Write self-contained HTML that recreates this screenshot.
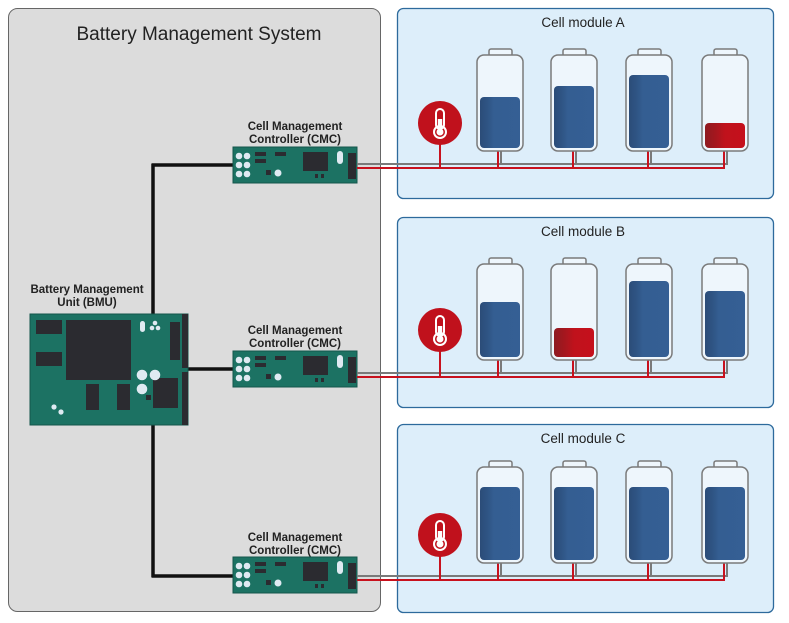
<!DOCTYPE html>
<html><head><meta charset="utf-8"><style>
html,body{margin:0;padding:0;background:#fff;width:789px;height:623px;overflow:hidden}
svg{display:block}
text{font-family:"Liberation Sans",sans-serif;fill:#222}
</style></head><body>
<svg width="789" height="623" viewBox="0 0 789 623" xmlns="http://www.w3.org/2000/svg">
<defs>
<linearGradient id="bl" x1="0" x2="1" y1="0" y2="0">
<stop offset="0" stop-color="#2b4c78"/><stop offset="0.2" stop-color="#2f5585"/><stop offset="0.35" stop-color="#345e92"/><stop offset="1" stop-color="#355f94"/></linearGradient>
<linearGradient id="rd" x1="0" x2="1" y1="0" y2="0">
<stop offset="0" stop-color="#8e1a20"/><stop offset="0.3" stop-color="#a8161e"/><stop offset="0.5" stop-color="#c0121c"/><stop offset="1" stop-color="#c5101c"/></linearGradient>
<g id="therm">
<circle cx="0" cy="0" r="22" fill="#c0111c"/>
<rect x="-4" y="-14" width="8" height="20" rx="4" fill="none" stroke="#fff" stroke-width="2"/>
<circle cx="0" cy="9" r="6" fill="none" stroke="#fff" stroke-width="2"/>
<rect x="-2.2" y="-4" width="4.4" height="10" fill="#fff"/>
<circle cx="0" cy="9" r="3.5" fill="#fff"/>
</g>
<g id="cmc">
<rect x="0" y="0" width="124" height="36" fill="#1c7263"/>
<rect x="0" y="0" width="124" height="36" fill="none" stroke="#14564b" stroke-width="1"/>
<g fill="#dfeaf2">
<circle cx="6" cy="9" r="3.3"/><circle cx="14" cy="9" r="3.3"/>
<circle cx="6" cy="18" r="3.3"/><circle cx="14" cy="18" r="3.3"/>
<circle cx="6" cy="27" r="3.3"/><circle cx="14" cy="27" r="3.3"/>
<circle cx="45" cy="26" r="3.5"/>
<rect x="104" y="4" width="6" height="13" rx="3"/>
</g>
<g fill="#2b2b30">
<rect x="22" y="5" width="11" height="4"/><rect x="22" y="12" width="11" height="4"/>
<rect x="42" y="5" width="11" height="4"/>
<rect x="33" y="23" width="5" height="5"/>
<rect x="70" y="5" width="25" height="19"/>
<rect x="82" y="27" width="3" height="4"/><rect x="88" y="27" width="3" height="4"/>
<rect x="115" y="6" width="8" height="26"/>
</g>
</g>
<g id="cmclabel">
<text x="0" y="0" font-size="11.5" font-weight="bold" text-anchor="middle">Cell Management</text>
<text x="0" y="13" font-size="11.5" font-weight="bold" text-anchor="middle">Controller (CMC)</text>
</g>
</defs>

<!-- BMS panel -->
<rect x="8.5" y="8.5" width="372" height="603" rx="9" fill="#dcdcdc" stroke="#666" stroke-width="1"/>
<text x="199" y="40" font-size="19" text-anchor="middle">Battery Management System</text>

<!-- modules -->
<rect x="397.5" y="8.5" width="376" height="190" rx="6" fill="#ddeefa" stroke="#2d6a9c" stroke-width="1.3"/>
<rect x="397.5" y="217.5" width="376" height="190" rx="6" fill="#ddeefa" stroke="#2d6a9c" stroke-width="1.3"/>
<rect x="397.5" y="424.5" width="376" height="188" rx="6" fill="#ddeefa" stroke="#2d6a9c" stroke-width="1.3"/>
<text x="583" y="27" font-size="13.5" text-anchor="middle">Cell module A</text>
<text x="583" y="236" font-size="13.5" text-anchor="middle">Cell module B</text>
<text x="583" y="443" font-size="13.5" text-anchor="middle">Cell module C</text>

<!-- black bus -->
<g stroke="#111" stroke-width="3.5" fill="none">
<line x1="153" y1="164" x2="153" y2="577"/>
<line x1="151.5" y1="165" x2="234" y2="165"/>
<line x1="188" y1="369" x2="234" y2="369"/>
<line x1="151.5" y1="576" x2="234" y2="576"/>
</g>

<!-- BMU -->
<text x="87" y="293" font-size="11.5" font-weight="bold" text-anchor="middle">Battery Management</text>
<text x="87" y="306" font-size="11.5" font-weight="bold" text-anchor="middle">Unit (BMU)</text>
<g transform="translate(30,314)">
<rect x="0" y="0" width="158" height="111" fill="#1c7263" stroke="#14564b"/>
<g fill="#2b2b30">
<rect x="6" y="6" width="26" height="14"/>
<rect x="6" y="38" width="26" height="14"/>
<rect x="36" y="6" width="65" height="60"/>
<rect x="56" y="70" width="13" height="26"/>
<rect x="87" y="70" width="13" height="26"/>
<rect x="123" y="64" width="25" height="30"/>
<rect x="140" y="8" width="10" height="38"/>
<rect x="124" y="75" width="4" height="4"/>
<rect x="125" y="81" width="5" height="5"/>
<rect x="127" y="86" width="5" height="3"/>
<rect x="152" y="0" width="6" height="54"/><rect x="152" y="58" width="6" height="53"/>
<rect x="116" y="81" width="5" height="5"/>
</g>
<g fill="#dfeaf2">
<rect x="110" y="7" width="5" height="11" rx="2.5"/>
<circle cx="125" cy="9" r="2.3"/><circle cx="122" cy="14" r="2.3"/><circle cx="128" cy="14" r="2.3"/>
<circle cx="112" cy="61" r="5.3"/><circle cx="125" cy="61" r="5.3"/><circle cx="112" cy="75" r="5.3"/>
<circle cx="24" cy="93" r="2.6"/><circle cx="31" cy="98" r="2.6"/>
</g>
</g>

<!-- CMCs -->
<use href="#cmclabel" x="295" y="130"/>
<use href="#cmc" x="233" y="147"/>
<use href="#cmclabel" x="295" y="334"/>
<use href="#cmc" x="233" y="351"/>
<use href="#cmclabel" x="295" y="541"/>
<use href="#cmc" x="233" y="557"/>

<!-- Module A -->
<g transform="translate(0,0)">
<g stroke-width="2" fill="none">
<path d="M357 164 H727 V151 M501 151 V164 M576 151 V164 M651 151 V164" stroke="#7a7a7a"/>
<path d="M357 168 H724 V151 M498 151 V168 M573 151 V168 M648 151 V168 M440 140 V168" stroke="#c8111d"/>
</g>
<use href="#therm" x="440" y="123"/>
</g>
<g fill="#eef6fc" stroke="#7a7a7a" stroke-width="1.5">
<rect x="489" y="49" width="23" height="7" rx="2"/><rect x="477" y="55" width="46" height="96" rx="7"/>
<rect x="563" y="49" width="23" height="7" rx="2"/><rect x="551" y="55" width="46" height="96" rx="7"/>
<rect x="638" y="49" width="23" height="7" rx="2"/><rect x="626" y="55" width="46" height="96" rx="7"/>
<rect x="714" y="49" width="23" height="7" rx="2"/><rect x="702" y="55" width="46" height="96" rx="7"/>
</g>
<rect x="480" y="97" width="40" height="51" rx="4" fill="url(#bl)"/>
<rect x="554" y="86" width="40" height="62" rx="4" fill="url(#bl)"/>
<rect x="629" y="75" width="40" height="73" rx="4" fill="url(#bl)"/>
<rect x="705" y="123" width="40" height="25" rx="4" fill="url(#rd)"/>

<!-- Module B -->
<g transform="translate(0,209)">
<g stroke-width="2" fill="none">
<path d="M357 164 H727 V151 M501 151 V164 M576 151 V164 M651 151 V164" stroke="#7a7a7a"/>
<path d="M357 168 H724 V151 M498 151 V168 M573 151 V168 M648 151 V168 M440 140 V168" stroke="#c8111d"/>
</g>
<use href="#therm" x="440" y="121"/>
<g fill="#eef6fc" stroke="#7a7a7a" stroke-width="1.5">
<rect x="489" y="49" width="23" height="7" rx="2"/><rect x="477" y="55" width="46" height="96" rx="7"/>
<rect x="563" y="49" width="23" height="7" rx="2"/><rect x="551" y="55" width="46" height="96" rx="7"/>
<rect x="638" y="49" width="23" height="7" rx="2"/><rect x="626" y="55" width="46" height="96" rx="7"/>
<rect x="714" y="49" width="23" height="7" rx="2"/><rect x="702" y="55" width="46" height="96" rx="7"/>
</g>
<rect x="480" y="93" width="40" height="55" rx="4" fill="url(#bl)"/>
<rect x="554" y="119" width="40" height="29" rx="4" fill="url(#rd)"/>
<rect x="629" y="72" width="40" height="76" rx="4" fill="url(#bl)"/>
<rect x="705" y="82" width="40" height="66" rx="4" fill="url(#bl)"/>
</g>

<!-- Module C -->
<g transform="translate(0,412)">
<g stroke-width="2" fill="none">
<path d="M357 164 H727 V151 M501 151 V164 M576 151 V164 M651 151 V164" stroke="#7a7a7a"/>
<path d="M357 168 H724 V151 M498 151 V168 M573 151 V168 M648 151 V168 M440 140 V168" stroke="#c8111d"/>
</g>
<use href="#therm" x="440" y="123"/>
<g fill="#eef6fc" stroke="#7a7a7a" stroke-width="1.5">
<rect x="489" y="49" width="23" height="7" rx="2"/><rect x="477" y="55" width="46" height="96" rx="7"/>
<rect x="563" y="49" width="23" height="7" rx="2"/><rect x="551" y="55" width="46" height="96" rx="7"/>
<rect x="638" y="49" width="23" height="7" rx="2"/><rect x="626" y="55" width="46" height="96" rx="7"/>
<rect x="714" y="49" width="23" height="7" rx="2"/><rect x="702" y="55" width="46" height="96" rx="7"/>
</g>
<rect x="480" y="75" width="40" height="73" rx="4" fill="url(#bl)"/>
<rect x="554" y="75" width="40" height="73" rx="4" fill="url(#bl)"/>
<rect x="629" y="75" width="40" height="73" rx="4" fill="url(#bl)"/>
<rect x="705" y="75" width="40" height="73" rx="4" fill="url(#bl)"/>
</g>
</svg>
</body></html>
